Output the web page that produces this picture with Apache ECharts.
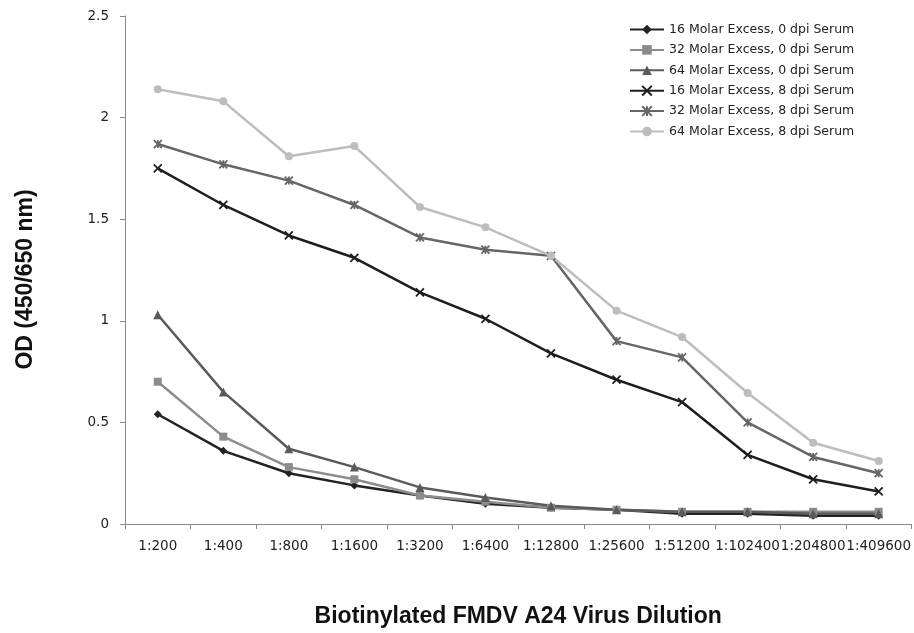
<!DOCTYPE html>
<html lang="en">
<head>
  <meta charset="UTF-8">
  <title>FMDV A24 dilution</title>
  <style>html,body{margin:0;padding:0;background:#fff;}</style>
</head>
<body>
  <div id="main" style="width:914px;height:633px;"></div>
  <script src="https://cdn.jsdelivr.net/npm/echarts@6/dist/echarts.min.js"></script>
  <script>
  var dilutions = ['1:200', '1:400', '1:800', '1:1600', '1:3200', '1:6400', '1:12800', '1:25600', '1:51200', '1:102400', '1:204800', '1:409600']
  var m16d0 = [0.54, 0.36, 0.25, 0.19, 0.14, 0.10, 0.08, 0.07, 0.05, 0.05, 0.04, 0.04]
  var m32d0 = [0.70, 0.43, 0.28, 0.22, 0.14, 0.11, 0.08, 0.07, 0.06, 0.06, 0.06, 0.06]
  var m64d0 = [1.03, 0.65, 0.37, 0.28, 0.18, 0.13, 0.09, 0.07, 0.06, 0.06, 0.05, 0.05]
  var m16d8 = [1.75, 1.57, 1.42, 1.31, 1.14, 1.01, 0.84, 0.71, 0.60, 0.34, 0.22, 0.16]
  var m32d8 = [1.87, 1.77, 1.69, 1.57, 1.41, 1.35, 1.32, 0.90, 0.82, 0.50, 0.33, 0.25]
  var m64d8 = [2.14, 2.08, 1.81, 1.86, 1.56, 1.46, 1.32, 1.05, 0.92, 0.645, 0.40, 0.31]

  var crossPath = 'path://M0,0L10,10M10,0L0,10'
  var starPath = 'path://M0,0L10,10M10,0L0,10M5,0L5,10'

  function mk(name, data, color, symbol, size, stroke) {
    return {
      name: name,
      type: 'line',
      data: data,
      symbol: symbol,
      symbolSize: size,
      showSymbol: true,
      lineStyle: { color: color, width: 2.5 },
      itemStyle: stroke
        ? { color: 'rgba(0,0,0,0)', borderColor: color, borderWidth: 1.8 }
        : { color: color, borderWidth: 0 },
      emphasis: { disabled: true }
    }
  }

  var series = [
    mk('16 Molar Excess, 0 dpi Serum', m16d0, '#222222', 'diamond', 8),
    mk('32 Molar Excess, 0 dpi Serum', m32d0, '#8c8c8c', 'rect', 8),
    mk('64 Molar Excess, 0 dpi Serum', m64d0, '#5a5a5a', 'triangle', 9),
    mk('16 Molar Excess, 8 dpi Serum', m16d8, '#1e1e1e', crossPath, 8, true),
    mk('32 Molar Excess, 8 dpi Serum', m32d8, '#666666', starPath, 8, true),
    mk('64 Molar Excess, 8 dpi Serum', m64d8, '#bdbdbd', 'circle', 8)
  ]

  var myChart = echarts.init(document.getElementById('main'))
  var option = {
    animation: false,
    backgroundColor: '#ffffff',
    grid: { left: 125, right: 2, top: 16, bottom: 102, containLabel: false },
    legend: {
      orient: 'vertical',
      left: 624,
      top: 18,
      itemWidth: 34,
      itemHeight: 12,
      itemGap: 7.4,
      textStyle: { fontFamily: 'DejaVu Sans', fontSize: 12.5, color: '#222' },
      data: series.map(function (s) { return s.name })
    },
    xAxis: {
      type: 'category',
      data: dilutions,
      boundaryGap: true,
      name: 'Biotinylated FMDV A24 Virus Dilution',
      nameLocation: 'middle',
      nameGap: 81,
      nameTextStyle: { fontFamily: 'Liberation Sans', fontWeight: 'bold', fontSize: 23, color: '#111' },
      axisLine: { lineStyle: { color: '#8a8a8a', width: 1 } },
      axisTick: { show: true, length: 5, lineStyle: { color: '#8a8a8a' } },
      axisLabel: { interval: 0, margin: 15, fontFamily: 'DejaVu Sans', fontSize: 13.5, color: '#222' },
      splitLine: { show: false }
    },
    yAxis: {
      type: 'value',
      min: 0,
      max: 2.5,
      interval: 0.5,
      name: 'OD (450/650 nm)',
      nameLocation: 'middle',
      nameGap: 88,
      nameRotate: 90,
      nameTextStyle: { fontFamily: 'Liberation Sans', fontWeight: 'bold', fontSize: 23, color: '#111', padding: [0, 19, 0, 0] },
      axisLine: { show: true, lineStyle: { color: '#8a8a8a', width: 1 } },
      axisTick: { show: true, length: 5, lineStyle: { color: '#8a8a8a' } },
      axisLabel: { margin: 16, fontFamily: 'DejaVu Sans', fontSize: 13.5, color: '#222' },
      splitLine: { show: false }
    },
    series: series
  }
  myChart.setOption(option)
  </script>
</body>
</html>
